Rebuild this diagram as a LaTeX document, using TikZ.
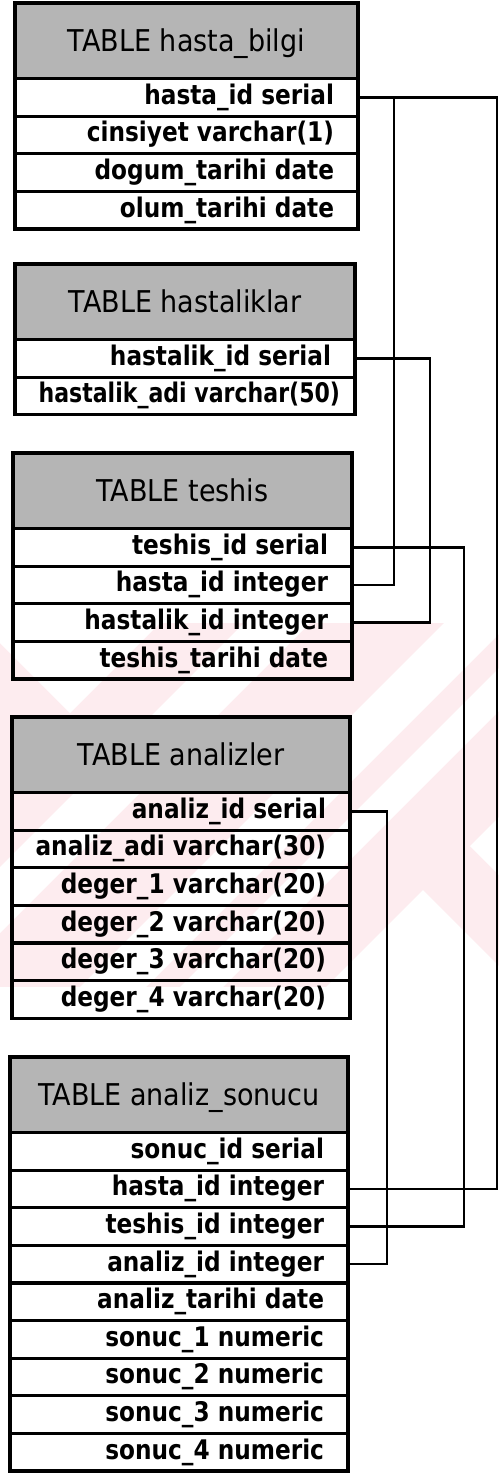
\documentclass[tikz,border=0pt]{standalone}
\usepackage{graphicx}
\usepackage{fontspec}
\setmainfont{DejaVu Sans}
\newfontfamily\headfont{DejaVu Sans}[FakeStretch=0.9]
\newfontfamily\rowfont{DejaVu Sans Bold}[FakeStretch=0.86]
\usetikzlibrary{positioning}

\definecolor{hdrgray}{gray}{0.71}
\definecolor{markpink}{RGB}{253,236,239}

% inner width of a field row; text is set flush right inside it
\newlength\fldw
\newcommand\rt[1]{\makebox[\fldw][r]{#1}}

\tikzset{
  frame/.style={draw=black, line width=3.2pt, outer sep=0pt},
  head/.style={frame, fill=hdrgray, anchor=north west, inner sep=0pt,
    minimum height=75.5pt, font=\headfont\fontsize{30}{32}\selectfont,
    text height=22pt, text depth=0pt},
  field/.style={frame, anchor=north west, inner xsep=24pt, inner ysep=0pt,
    minimum height=37.6pt, font=\rowfont\fontsize{27}{29}\selectfont,
    text height=21pt, text depth=7pt},
  link/.style={draw=black, line width=2.6pt},
}

\begin{document}
\begin{tikzpicture}[x=1pt,y=-1pt]
\useasboundingbox (0,0) rectangle (499,1473);
\fill[white] (0,0) rectangle (499,1473);

% faint background band with white chevrons and stripes
\begin{scope}
  \clip (0,623) rectangle (499,987);
  \fill[markpink] (0,623) rectangle (499,987);
  \fill[white] (-20,623) -- (70,713) -- (160,623) -- cycle;
  \fill[white] (244,623) -- (310,623) -- (-54,987) -- (-120,987) -- cycle;
  \fill[white] (444,623) -- (510,623) -- (146,987) -- (80,987) -- cycle;
  \fill[white] (544,623) -- (587,623) -- (223,987) -- (180,987) -- cycle;
  \fill[white] (423,890) -- (326,987) -- (520,987) -- cycle;
  \fill[white] (499,817) -- (470,846) -- (499,875) -- cycle;
\end{scope}

% TABLE hasta_bilgi
\setlength\fldw{295pt}
\node[head, minimum width=343pt] (t1h) at (15,3) {TABLE hasta\_bilgi};
\node[field] (t1r1) at (t1h.south west) {\rt{hasta\_id serial}};
\node[field] (t1r2) at (t1r1.south west) {\rt{cinsiyet varchar(1)}};
\node[field] (t1r3) at (t1r2.south west) {\rt{dogum\_tarihi date}};
\node[field] (t1r4) at (t1r3.south west) {\rt{olum\_tarihi date}};

% TABLE hastaliklar
\setlength\fldw{292pt}
\node[head, minimum width=340pt] (t2h) at (15,264) {TABLE hastaliklar};
\node[field] (t2r1) at (t2h.south west) {\rt{hastalik\_id serial}};
\node[field] (t2r2) at (t2r1.south west) {\rt{\scalebox{0.95}[1]{hastalik\_adi varchar(50)}\hspace*{-9pt}}};

% TABLE teshis
\setlength\fldw{291pt}
\node[head, minimum width=339pt] (t3h) at (13,453) {TABLE teshis};
\node[field] (t3r1) at (t3h.south west) {\rt{teshis\_id serial}};
\node[field] (t3r2) at (t3r1.south west) {\rt{hasta\_id integer}};
\node[field] (t3r3) at (t3r2.south west) {\rt{hastalik\_id integer}};
\node[field] (t3r4) at (t3r3.south west) {\rt{teshis\_tarihi date}};

% TABLE analizler
\setlength\fldw{290pt}
\node[head, minimum width=338pt] (t4h) at (12,717) {TABLE analizler};
\node[field] (t4r1) at (t4h.south west) {\rt{analiz\_id serial}};
\node[field] (t4r2) at (t4r1.south west) {\rt{analiz\_adi varchar(30)}};
\node[field] (t4r3) at (t4r2.south west) {\rt{deger\_1 varchar(20)}};
\node[field] (t4r4) at (t4r3.south west) {\rt{deger\_2 varchar(20)}};
\node[field] (t4r5) at (t4r4.south west) {\rt{deger\_3 varchar(20)}};
\node[field] (t4r6) at (t4r5.south west) {\rt{deger\_4 varchar(20)}};

% TABLE analiz_sonucu
\setlength\fldw{290pt}
\node[head, minimum width=338pt] (t5h) at (10,1057) {TABLE analiz\_sonucu};
\node[field] (t5r1) at (t5h.south west) {\rt{sonuc\_id serial}};
\node[field] (t5r2) at (t5r1.south west) {\rt{hasta\_id integer}};
\node[field] (t5r3) at (t5r2.south west) {\rt{teshis\_id integer}};
\node[field] (t5r4) at (t5r3.south west) {\rt{analiz\_id integer}};
\node[field] (t5r5) at (t5r4.south west) {\rt{analiz\_tarihi date}};
\node[field] (t5r6) at (t5r5.south west) {\rt{sonuc\_1 numeric}};
\node[field] (t5r7) at (t5r6.south west) {\rt{sonuc\_2 numeric}};
\node[field] (t5r8) at (t5r7.south west) {\rt{sonuc\_3 numeric}};
\node[field] (t5r9) at (t5r8.south west) {\rt{sonuc\_4 numeric}};

% foreign key links
\draw[link] (t1r1.east) -- (497,0 |- t1r1.east) -- (497,0 |- t5r2.east) -- (t5r2.east);
\draw[link] (394,0 |- t1r1.east) -- (394,0 |- t3r2.east) -- (t3r2.east);
\draw[link] (t2r1.east) -- (430,0 |- t2r1.east) -- (430,0 |- t3r3.east) -- (t3r3.east);
\draw[link] (t3r1.east) -- (464,0 |- t3r1.east) -- (464,0 |- t5r3.east) -- (t5r3.east);
\draw[link] (t4r1.east) -- (387,0 |- t4r1.east) -- (387,0 |- t5r4.east) -- (t5r4.east);
\end{tikzpicture}
\end{document}
